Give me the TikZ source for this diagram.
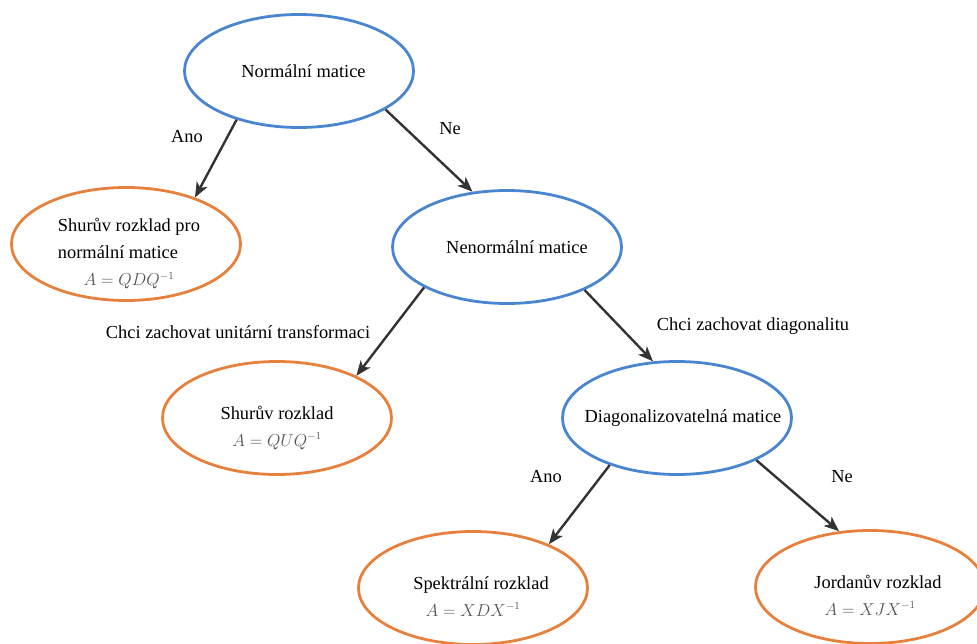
\documentclass[tikz,border=0pt]{standalone}
\usepackage{fontspec}
\setmainfont{Liberation Serif}
\usepackage{amsmath}
\usetikzlibrary{shapes, arrows.meta, calc, positioning}

\definecolor{modra}{HTML}{4A86CF}
\definecolor{oranzova}{HTML}{E6813D}
\definecolor{sipka}{HTML}{333333}
\definecolor{seda}{HTML}{555555}

\newcommand{\vzorec}[1]{{\color{seda}\fontsize{16}{16}\selectfont$#1$}}
\newcommand{\dolu}[1]{\makebox[0pt]{\raisebox{-13.6pt}[0pt][0pt]{#1}}}

\begin{document}
\begin{tikzpicture}[>={Stealth[length=15pt, width=12pt, inset=4pt]}, x=1pt, y=-1pt]
	\tikzstyle{matice} = [draw=modra, line width=2.8pt, ellipse, minimum width=229pt, minimum height=113pt, inner sep=0pt, font=\fontsize{18.4}{27}\selectfont]
	\tikzstyle{rozklad} = [matice, draw=oranzova]
	\tikzstyle{popis} = [inner sep=0pt, font=\fontsize{18.4}{22}\selectfont]

	\useasboundingbox (0,0) rectangle (977,644);

	\begin{scope}
		\path[->, line width=2.4pt]
			node[matice] (normalni) at (299,71) {\makebox[0pt]{\hspace{9pt}Normální matice}}
			node[rozklad] (schurnorm) at (126,244) {\dolu{\hspace{6pt}\begin{tabular}{@{}l@{}}Shurův rozklad pro\\normální matice\\\multicolumn{1}{c}{\vzorec{A = QDQ^{-1}}}\end{tabular}}}
			node[matice] (nenormalni) at (507,247) {\makebox[0pt]{\hspace{20pt}Nenormální matice}}
			node[rozklad] (schur) at (277,418) {\dolu{\begin{tabular}{@{}c@{}}Shurův rozklad\\\vzorec{A = QUQ^{-1}}\end{tabular}}}
			node[matice] (diag) at (677,418) {\makebox[0pt]{\hspace{12pt}Diagonalizovatelná matice}}
			node[rozklad] (spektralni) at (473,588) {\dolu{\begin{tabular}{@{}c@{}}\hspace{16pt}Spektrální rozklad\\\vzorec{A = XDX^{-1}}\end{tabular}}}
			node[rozklad] (jordan) at (870,587) {\dolu{\begin{tabular}{@{}c@{}}\hspace{16pt}Jordanův rozklad\\\vzorec{A = XJX^{-1}}\end{tabular}}}

			(normalni.-142) edge[sipka] (schurnorm.34)
			(normalni.-24) edge[sipka] (nenormalni.122)
			(nenormalni.-154) edge[sipka] (schur.28)
			(nenormalni.-29) edge[sipka] (diag.113)
			(diag.-145) edge[sipka] (spektralni.30)
			(diag.-28) edge[sipka] (jordan.119)
		;

		\node[popis] (ano1) at (187,137) {Ano};
		\node[popis] (ne1) at (450,129) {Ne};
		\node[popis] (unitarni) at (238,332) {Chci zachovat unitární transformaci};
		\node[popis] (diagonalita) at (753,326) {Chci zachovat diagonalitu};
		\node[popis] (ano2) at (546,477) {Ano};
		\node[popis] (ne2) at (842,477) {Ne};
	\end{scope}
\end{tikzpicture}
\end{document}
